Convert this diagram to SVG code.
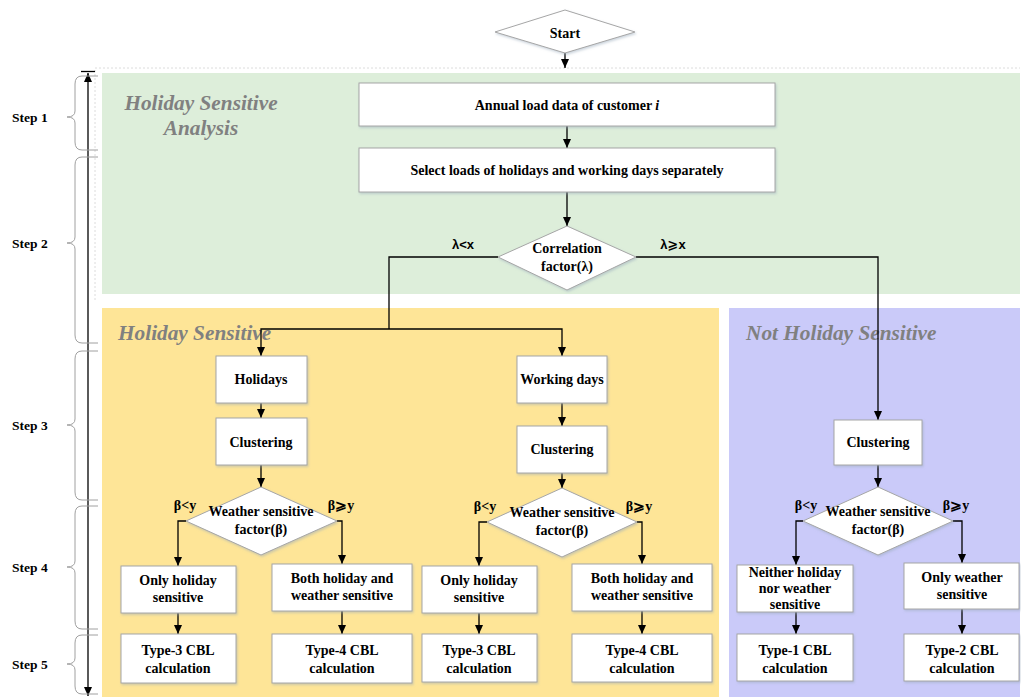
<svg xmlns="http://www.w3.org/2000/svg" width="1021" height="700" viewBox="0 0 1021 700">
<defs>
<marker id="ah" markerWidth="10" markerHeight="10" refX="9" refY="5" orient="auto" markerUnits="userSpaceOnUse">
<path d="M0,1 L9,5 L0,9 Z" fill="#000"/>
</marker>
<marker id="ahs" markerWidth="10" markerHeight="10" refX="1" refY="5" orient="auto" markerUnits="userSpaceOnUse">
<path d="M10,1 L1,5 L10,9 Z" fill="#000"/>
</marker>
<filter id="sh" x="-10%" y="-10%" width="130%" height="140%">
<feDropShadow dx="1" dy="1.5" stdDeviation="1" flood-color="#9ab" flood-opacity="0.5"/>
</filter>
</defs>
<style>
.box{fill:#fff;stroke:#a6a6a6;stroke-width:1;filter:url(#sh)}
.dia{fill:#fff;stroke:#a6a6a6;stroke-width:1;filter:url(#sh)}
.t{font-family:"Liberation Serif","Times New Roman",serif;font-weight:bold;font-size:14px;fill:#000;text-anchor:middle}
.lab{font-family:"Liberation Serif","Times New Roman",serif;font-weight:bold;font-size:14px;fill:#000;text-anchor:middle}
.lam{font-family:"Liberation Sans",Arial,"DejaVu Sans",sans-serif;font-weight:bold;font-size:13px;fill:#000;text-anchor:middle}
.pt{font-family:"Liberation Serif","Times New Roman",serif;font-weight:bold;font-style:italic;font-size:21.3px;fill:#808080}
.step{font-family:"Liberation Serif","Times New Roman",serif;font-weight:bold;font-size:13.5px;fill:#000}
.c{fill:none;stroke:#000;stroke-width:1.3}
.br{fill:none;stroke:#a0a0a0;stroke-width:1}
</style>
<rect width="1021" height="700" fill="#fff"/>
<!-- panels -->
<g id="panels">
<path d="M95,300 L95,68 L1020,68" fill="none" stroke="#dcdcdc" stroke-width="1" stroke-dasharray="2,2"/>
<rect id="panel-analysis" x="102" y="73" width="918" height="221" fill="#DDEEDA"/>
<rect id="panel-holiday" x="102" y="308" width="617" height="389" fill="#FEE597"/>
<rect id="panel-not" x="729" y="308" width="291" height="389" fill="#CACAF9"/>
<text class="pt" x="201" y="110" text-anchor="middle">Holiday Sensitive</text>
<text class="pt" x="201" y="135" text-anchor="middle">Analysis</text>
<text class="pt" x="118" y="340">Holiday Sensitive</text>
<text class="pt" x="746" y="340">Not Holiday Sensitive</text>
</g>
<!-- step scale -->
<g id="steps">
<line x1="88" y1="73" x2="88" y2="696" stroke="#000" stroke-width="1.3" marker-start="url(#ahs)" marker-end="url(#ah)"/>
<line x1="81" y1="71.5" x2="95" y2="71.5" stroke="#000" stroke-width="1.3"/>
<path class="br" d="M82,76 Q75,76 75,84 L75,111 Q75,117 67,117 Q75,117 75,123 L75,142 Q75,150 82,150 M82,76 L98,76 M82,150 L98,150"/>
<path class="br" d="M82,157 Q75,157 75,165 L75,237 Q75,243 67,243 Q75,243 75,249 L75,335 Q75,343 82,343 M82,157 L98,157 M82,343 L98,343"/>
<path class="br" d="M82,351 Q75,351 75,359 L75,419 Q75,425 67,425 Q75,425 75,431 L75,492 Q75,500 82,500 M82,351 L98,351 M82,500 L98,500"/>
<path class="br" d="M82,506 Q75,506 75,514 L75,561 Q75,567 67,567 Q75,567 75,573 L75,621 Q75,629 82,629 M82,506 L98,506 M82,629 L98,629"/>
<path class="br" d="M82,635 Q75,635 75,643 L75,658 Q75,664 67,664 Q75,664 75,670 L75,686 Q75,694 82,694 M82,635 L98,635 M82,694 L98,694"/>
<text class="step" x="12" y="122">Step 1</text>
<text class="step" x="12" y="248">Step 2</text>
<text class="step" x="12" y="430">Step 3</text>
<text class="step" x="12" y="572">Step 4</text>
<text class="step" x="12" y="669">Step 5</text>
</g>
<!-- connectors -->
<g id="connectors">
<line class="c" x1="565" y1="53" x2="565" y2="68" marker-end="url(#ah)"/>
<line class="c" x1="567" y1="126" x2="567" y2="148" marker-end="url(#ah)"/>
<line class="c" x1="567" y1="192" x2="567" y2="226" marker-end="url(#ah)"/>
<path class="c" d="M498,257 L389,257 L389,329"/>
<path class="c" d="M389,329 L261,329 L261,356" marker-end="url(#ah)"/>
<path class="c" d="M389,329 L562,329 L562,356" marker-end="url(#ah)"/>
<path class="c" d="M636,257 L878,257 L878,420" marker-end="url(#ah)"/>
<line class="c" x1="261" y1="403" x2="261" y2="418" marker-end="url(#ah)"/>
<line class="c" x1="261" y1="465" x2="261" y2="487" marker-end="url(#ah)"/>
<path class="c" d="M186,521 L178,521 L178,566" marker-end="url(#ah)"/>
<path class="c" d="M337,521 L342,521 L342,564" marker-end="url(#ah)"/>
<line class="c" x1="178" y1="613" x2="178" y2="634" marker-end="url(#ah)"/>
<line class="c" x1="342" y1="611" x2="342" y2="634" marker-end="url(#ah)"/>
<line class="c" x1="562" y1="403" x2="562" y2="426" marker-end="url(#ah)"/>
<line class="c" x1="562" y1="473" x2="562" y2="488" marker-end="url(#ah)"/>
<path class="c" d="M487,522 L479,522 L479,566" marker-end="url(#ah)"/>
<path class="c" d="M637,522 L642,522 L642,564" marker-end="url(#ah)"/>
<line class="c" x1="479" y1="613" x2="479" y2="634" marker-end="url(#ah)"/>
<line class="c" x1="642" y1="611" x2="642" y2="634" marker-end="url(#ah)"/>
<line class="c" x1="878" y1="465" x2="878" y2="487" marker-end="url(#ah)"/>
<path class="c" d="M803,521 L796,521 L796,565" marker-end="url(#ah)"/>
<path class="c" d="M953,521 L962,521 L962,563" marker-end="url(#ah)"/>
<line class="c" x1="796" y1="612" x2="796" y2="634" marker-end="url(#ah)"/>
<line class="c" x1="962" y1="609" x2="962" y2="634" marker-end="url(#ah)"/>
<text class="lam" x="463" y="249">λ&lt;x</text>
<text class="lam" x="673" y="249">λ⩾x</text>
<text class="lab" x="185" y="510">β&lt;y</text>
<text class="lab" x="341" y="510">β⩾y</text>
<text class="lab" x="485" y="511">β&lt;y</text>
<text class="lab" x="639" y="511">β⩾y</text>
<text class="lab" x="806" y="510">β&lt;y</text>
<text class="lab" x="956" y="510">β⩾y</text>
</g>
<!-- nodes -->
<g id="start"><polygon class="dia" points="565,10 635,32 565,53 495,32"/><text class="t" x="565" y="38" font-size="15">Start</text></g>
<g id="annual"><rect class="box" x="359" y="83" width="416" height="43"/><text class="t" x="567" y="110" font-size="15.5">Annual load data of customer  <tspan font-style="italic">i</tspan></text></g>
<g id="select"><rect class="box" x="359" y="148" width="416" height="44"/><text class="t" x="567" y="175" font-size="13.6">Select loads of holidays and working days separately</text></g>
<g id="corr"><polygon class="dia" points="567,226 636,257 567,290 498,257"/><text class="t" x="567" y="253" font-size="13.3">Correlation</text><text class="t" x="567" y="271" font-size="13.3">factor(λ)</text></g>
<g id="holidays"><rect class="box" x="216" y="356" width="91" height="47"/><text class="t" x="261" y="384" font-size="14.8">Holidays</text></g>
<g id="clus-h"><rect class="box" x="216" y="418" width="91" height="47"/><text class="t" x="261" y="447" font-size="14.8">Clustering</text></g>
<g id="wsf-h"><polygon class="dia" points="261,487 337,521 261,555 186,521"/><text class="t" x="261" y="516">Weather sensitive</text><text class="t" x="261" y="534">factor(β)</text></g>
<g id="only-h1"><rect class="box" x="121" y="566" width="115" height="47"/><text class="t" x="178" y="585">Only holiday</text><text class="t" x="178" y="602">sensitive</text></g>
<g id="both-h1"><rect class="box" x="272" y="564" width="140" height="47"/><text class="t" x="342" y="583">Both holiday and</text><text class="t" x="342" y="600">weather sensitive</text></g>
<g id="t3-h"><rect class="box" x="121" y="634" width="115" height="49"/><text class="t" x="178" y="655" font-size="14.8">Type-3 CBL</text><text class="t" x="178" y="673" font-size="14.8">calculation</text></g>
<g id="t4-h"><rect class="box" x="272" y="634" width="140" height="49"/><text class="t" x="342" y="655" font-size="14.8">Type-4 CBL</text><text class="t" x="342" y="673" font-size="14.8">calculation</text></g>
<g id="working"><rect class="box" x="517" y="356" width="90" height="47"/><text class="t" x="562" y="384">Working days</text></g>
<g id="clus-w"><rect class="box" x="517" y="426" width="90" height="47"/><text class="t" x="562" y="454" font-size="14.8">Clustering</text></g>
<g id="wsf-w"><polygon class="dia" points="562,488 637,522 562,557 487,522"/><text class="t" x="562" y="517">Weather sensitive</text><text class="t" x="562" y="535">factor(β)</text></g>
<g id="only-h2"><rect class="box" x="422" y="566" width="115" height="47"/><text class="t" x="479" y="585">Only holiday</text><text class="t" x="479" y="602">sensitive</text></g>
<g id="both-h2"><rect class="box" x="572" y="564" width="140" height="47"/><text class="t" x="642" y="583">Both holiday and</text><text class="t" x="642" y="600">weather sensitive</text></g>
<g id="t3-w"><rect class="box" x="422" y="634" width="115" height="48"/><text class="t" x="479" y="655" font-size="14.8">Type-3 CBL</text><text class="t" x="479" y="673" font-size="14.8">calculation</text></g>
<g id="t4-w"><rect class="box" x="572" y="634" width="140" height="48"/><text class="t" x="642" y="655" font-size="14.8">Type-4 CBL</text><text class="t" x="642" y="673" font-size="14.8">calculation</text></g>
<g id="clus-n"><rect class="box" x="834" y="420" width="88" height="45"/><text class="t" x="878" y="447" font-size="14.8">Clustering</text></g>
<g id="wsf-n"><polygon class="dia" points="878,487 953,521 878,555 803,521"/><text class="t" x="878" y="516">Weather sensitive</text><text class="t" x="878" y="534">factor(β)</text></g>
<g id="neither"><rect class="box" x="737" y="565" width="116" height="47"/><text class="t" x="795" y="577" font-size="13.5">Neither holiday</text><text class="t" x="795" y="593" font-size="13.5">nor weather</text><text class="t" x="795" y="609" font-size="13.5">sensitive</text></g>
<g id="only-w"><rect class="box" x="904" y="563" width="115" height="46"/><text class="t" x="962" y="582">Only weather</text><text class="t" x="962" y="599">sensitive</text></g>
<g id="t1"><rect class="box" x="737" y="634" width="116" height="47"/><text class="t" x="795" y="655" font-size="14.8">Type-1 CBL</text><text class="t" x="795" y="673" font-size="14.8">calculation</text></g>
<g id="t2"><rect class="box" x="904" y="634" width="115" height="47"/><text class="t" x="962" y="655" font-size="14.8">Type-2 CBL</text><text class="t" x="962" y="673" font-size="14.8">calculation</text></g>
</svg>
